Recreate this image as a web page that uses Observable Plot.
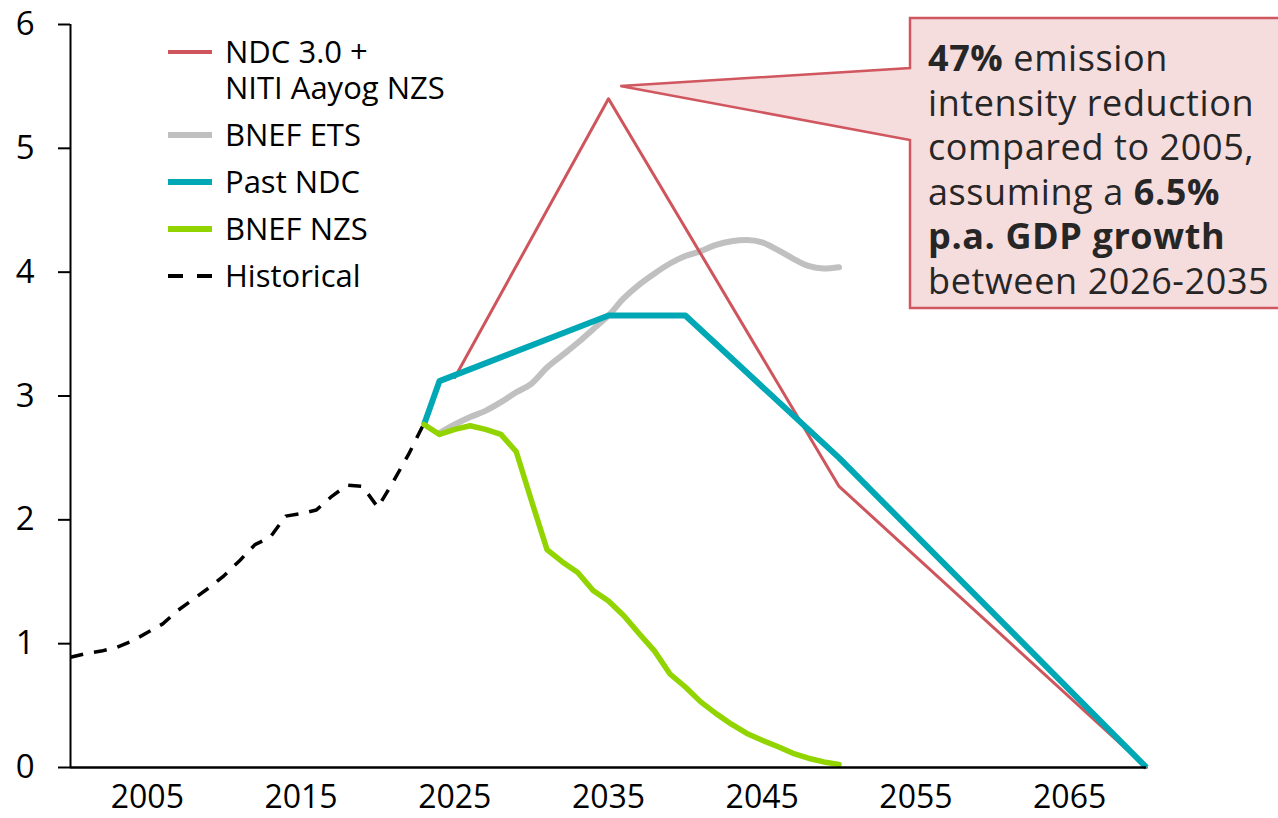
<!DOCTYPE html>
<html>
<head>
<meta charset="utf-8">
<script src="https://cdn.jsdelivr.net/npm/d3@7"></script>
<script src="https://cdn.jsdelivr.net/npm/@observablehq/plot@0.6"></script>
<style>
  html, body { margin: 0; padding: 0; background: #fff; }
  #chart { position: relative; width: 1278px; height: 818px; overflow: hidden; }
</style>
</head>
<body>
<div id="chart"></div>
<script>
const FONT = "'Open Sans', 'Noto Sans', sans-serif";

// ---- Data ----
const histYears  = [2000,2001,2002,2003,2004,2005,2006,2007,2008,2009,2010,2011,2012,2013,2014,2015,2016,2017,2018,2019,2020,2021,2022,2023];
const histValues = [0.89,0.92,0.94,0.97,1.02,1.09,1.16,1.27,1.36,1.45,1.55,1.67,1.80,1.86,2.03,2.05,2.08,2.19,2.28,2.27,2.10,2.31,2.53,2.78];

const nzsYears  = [2023,2024,2025,2026,2027,2028,2029,2030,2031,2032,2033,2034,2035,2036,2037,2038,2039,2040,2041,2042,2043,2044,2045,2046,2047,2048,2049,2050];
const nzsValues = [2.77,2.69,2.73,2.76,2.73,2.69,2.55,2.15,1.76,1.66,1.575,1.43,1.345,1.225,1.08,0.94,0.755,0.65,0.53,0.435,0.35,0.275,0.22,0.17,0.115,0.075,0.045,0.025];

const etsYears  = [2024,2025,2026,2027,2028,2029,2030,2031,2032,2033,2034,2035,2036,2037,2038,2039,2040,2041,2042,2043,2044,2045,2046,2047,2048,2049,2050];
const etsValues = [2.70,2.77,2.83,2.88,2.95,3.03,3.10,3.23,3.33,3.43,3.54,3.65,3.79,3.90,3.99,4.07,4.13,4.17,4.22,4.25,4.26,4.24,4.18,4.11,4.05,4.03,4.04];

const pastYears  = [2023,2024,2035,2040,2050,2070];
const pastValues = [2.77,3.12,3.65,3.65,2.50,0];

const ndcYears  = [2025,2035,2050,2070];
const ndcValues = [3.15,5.40,2.27,0];

const xTicks = [2005,2015,2025,2035,2045,2055,2065];
const yTicks = [0,1,2,3,4,5,6];

const legendLabels = [["NDC 3.0 +","NITI Aayog NZS"],["BNEF ETS"],["Past NDC"],["BNEF NZS"],["Historical"]];
const legendColors = ["#cf555d","#c0c0c0","#00a8b5","#92d400","#000000"];

const calloutLines = [
  [["47%",true],[" emission",false]],
  [["intensity reduction",false]],
  [["compared to 2005,",false]],
  [["assuming a ",false],["6.5%",true]],
  [["p.a. GDP growth",true]],
  [["between 2026-2035",false]]
];
const calloutTip = {year: 2035.8, value: 5.50};

// ---- Build tables ----
const rows = (ys, vs) => ys.map((y, i) => ({year: y, value: vs[i]}));
const hist = rows(histYears, histValues);
const nzs  = rows(nzsYears, nzsValues);
const ets  = rows(etsYears, etsValues);
const past = rows(pastYears, pastValues);
const ndc  = rows(ndcYears, ndcValues);

const [RED, GRAY, TEAL, GREEN, BLACK] = legendColors;

const chart = Plot.plot({
  width: 1278,
  height: 818,
  marginLeft: 70,
  marginRight: 132,
  marginTop: 24,
  marginBottom: 51,
  style: {fontFamily: FONT, fontSize: "32px", color: "#000", background: "transparent", overflow: "visible"},
  x: {domain: [2000, 2070], label: null},
  y: {domain: [0, 6], label: null},
  marks: [
    Plot.axisX({ticks: xTicks, tickFormat: d => String(d), tickSize: 0, tickPadding: 18, label: null, fontSize: 32}),
    Plot.axisY({ticks: yTicks, tickFormat: d => String(d), tickSize: 12, tickPadding: 24, strokeWidth: 2, label: null, fontSize: 33}),
    Plot.line(hist, {x: "year", y: "value", stroke: BLACK, strokeWidth: 3.5, strokeDasharray: "13,11", strokeLinecap: "butt"}),
    Plot.line(ets,  {x: "year", y: "value", stroke: GRAY, strokeWidth: 6, curve: "monotone-x"}),
    Plot.line(ndc,  {x: "year", y: "value", stroke: RED, strokeWidth: 3}),
    Plot.line(past, {x: "year", y: "value", stroke: TEAL, strokeWidth: 6, strokeLinecap: "butt"}),
    Plot.line(nzs,  {x: "year", y: "value", stroke: GREEN, strokeWidth: 5.5}),
    Plot.ruleX([2000], {y1: 0, y2: 6, stroke: "#000", strokeWidth: 2}),
    Plot.ruleY([0], {x1: 2000, x2: 2070, stroke: "#000", strokeWidth: 2.5})
  ]
});

document.getElementById("chart").appendChild(chart);

const svg = d3.select(chart);
const xs = chart.scale("x"), ys = chart.scale("y");

// ---- Legend ----
const lg = svg.append("g").attr("font-family", FONT).attr("font-size", 31)
  .attr("fill", "#000").attr("text-anchor", "start");
const rowY = [52, 135, 182, 229, 276];
const lineHeight = 36;
legendLabels.forEach((lines, i) => {
  const y = rowY[i];
  const ln = lg.append("line")
    .attr("x1", 168).attr("x2", 212).attr("y1", y).attr("y2", y)
    .attr("stroke", legendColors[i])
    .attr("stroke-width", i === 0 ? 4 : 6);
  if (i === 4) ln.attr("stroke-dasharray", "15,14").attr("stroke-width", 4);
  const t = lg.append("text").attr("x", 225).attr("y", y).attr("dy", "0.36em");
  lines.forEach((s, j) => {
    t.append("tspan").attr("x", 225).attr("y", y + j * lineHeight).attr("dy", "0.36em").text(s);
  });
});

// ---- Callout ----
const tipX = xs.apply(calloutTip.year), tipY = ys.apply(calloutTip.value);
const bx0 = 910, by0 = 18, bx1 = 1300, by1 = 308, py0 = 68, py1 = 140;
svg.append("path")
  .attr("d", `M${bx0},${by0} L${bx1},${by0} L${bx1},${by1} L${bx0},${by1} L${bx0},${py1} L${tipX},${tipY} L${bx0},${py0} Z`)
  .attr("fill", "#f5dcdd")
  .attr("stroke", "#d0575f")
  .attr("stroke-width", 2.5)
  .attr("stroke-linejoin", "miter");

const ct = svg.append("g").attr("font-family", FONT).attr("font-size", 36)
  .attr("fill", "#262626").attr("text-anchor", "start").attr("letter-spacing", "0.6px");
const baselines = [71, 115.5, 160, 204.5, 249, 293.5];
calloutLines.forEach((parts, i) => {
  const t = ct.append("text").attr("x", 928).attr("y", baselines[i]);
  parts.forEach(([s, bold]) => {
    t.append("tspan").attr("font-weight", bold ? 700 : 400).text(s);
  });
});
</script>
</body>
</html>
